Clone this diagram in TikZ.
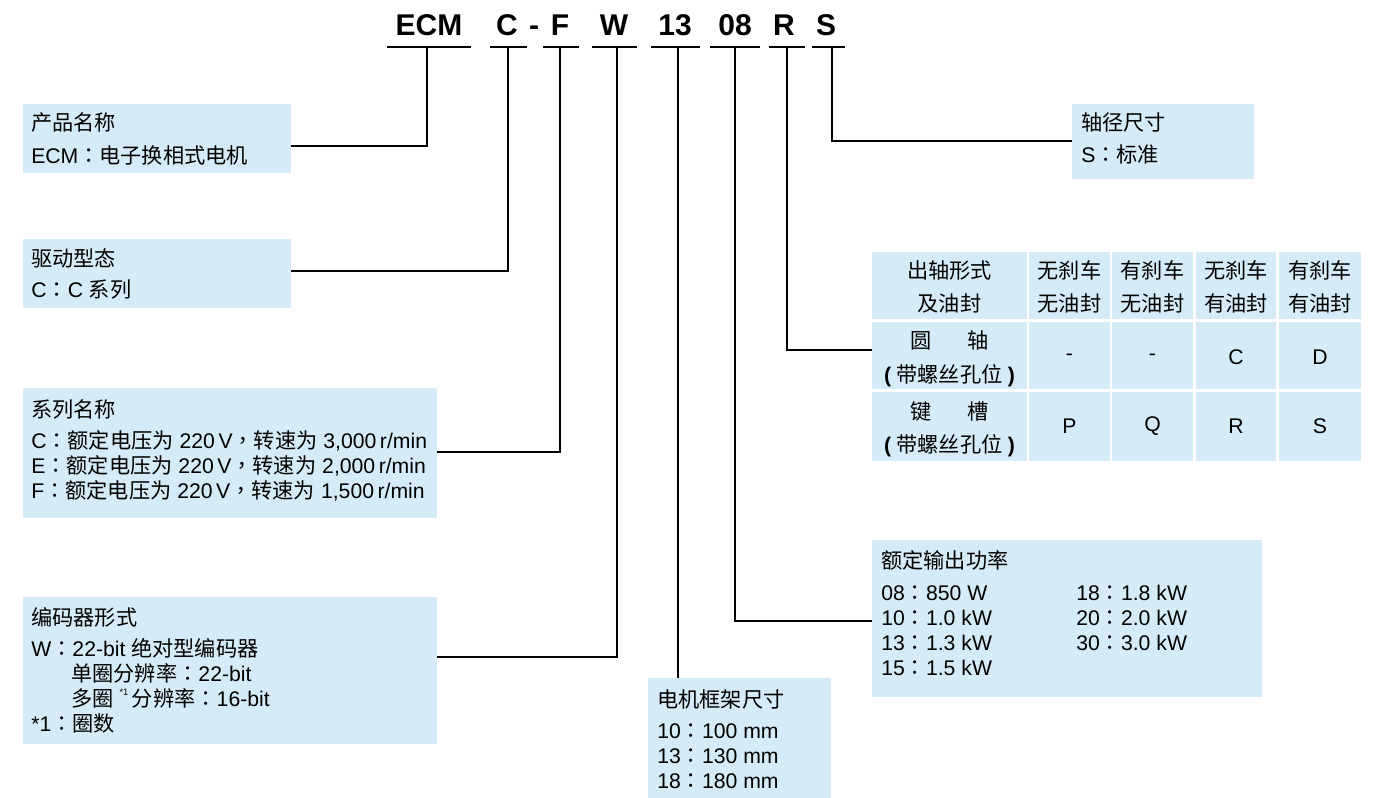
\documentclass[tikz,border=0pt]{standalone}
\usepackage{fontspec}
\setmainfont{Liberation Sans}
\newfontfamily\cjk{Noto Sans CJK SC}
\newfontfamily\cjktc{Noto Sans CJK TC}
\usetikzlibrary{fit}
\definecolor{boxblue}{RGB}{213,235,248}
\newcommand{\zh}[1]{{\cjk #1}}
\newcommand{\cc}{{\cjktc ：}}
\newcommand{\cm}{{\cjktc ，}}
\begin{document}
\begin{tikzpicture}[x=0.75pt,y=-0.75pt,
 box/.style={fill=boxblue,draw=none,inner sep=0pt},
 txt/.style={anchor=base west,inner sep=0pt,font=\fontsize{15.9}{18}\selectfont},
 ctxt/.style={anchor=base,inner sep=0pt,font=\fontsize{15.9}{18}\selectfont},
 vtxt/.style={anchor=center,inner sep=0pt,font=\fontsize{15.9}{18}\selectfont},
 hdr/.style={anchor=base,inner sep=0pt,font=\fontsize{22.5}{26}\selectfont\bfseries},
 conn/.style={line width=1.8pt}]
\useasboundingbox (0,0) rectangle (1380,798);

% boxes
\node[box,fit={(23,104)(291,173)}] (b1) {};
\node[box,fit={(23,239)(291,308)}] (b2) {};
\node[box,fit={(23,388)(437,518)}] (b3) {};
\node[box,fit={(23,597)(437,744)}] (b4) {};
\node[box,fit={(648,678)(831,798)}] (b5) {};
\node[box,fit={(872,540)(1262,697)}] (b6) {};
\node[box,fit={(1072,104)(1254,179)}] (b7) {};

% table cells
\node[box,fit={(872,252)(1027,319)}] (c11) {};
\node[box,fit={(1029,252)(1110,319)}] (c12) {};
\node[box,fit={(1112,252)(1193,319)}] (c13) {};
\node[box,fit={(1196,252)(1276,319)}] (c14) {};
\node[box,fit={(1279,252)(1361,319)}] (c15) {};
\node[box,fit={(872,322)(1027,389)}] (c21) {};
\node[box,fit={(1029,322)(1110,389)}] (c22) {};
\node[box,fit={(1112,322)(1193,389)}] (c23) {};
\node[box,fit={(1196,322)(1276,389)}] (c24) {};
\node[box,fit={(1279,322)(1361,389)}] (c25) {};
\node[box,fit={(872,392)(1027,461)}] (c31) {};
\node[box,fit={(1029,392)(1110,461)}] (c32) {};
\node[box,fit={(1112,392)(1193,461)}] (c33) {};
\node[box,fit={(1196,392)(1276,461)}] (c34) {};
\node[box,fit={(1279,392)(1361,461)}] (c35) {};

% header
\node[hdr] (hE) at (429,36) {ECM};
\node[hdr] (hC) at (507,36) {C};
\node[hdr] (hD) at (534,36) {-};
\node[hdr] (hF) at (560,36) {F};
\node[hdr] (hW) at (614,36) {W};
\node[hdr] (h13) at (675,36) {13};
\node[hdr] (h08) at (735,36) {08};
\node[hdr] (hR) at (784,36) {R};
\node[hdr] (hS) at (826,36) {S};
\draw[conn] (387,47) -- (471,47);
\draw[conn] (490,47) -- (527,47);
\draw[conn] (543,47) -- (579,47);
\draw[conn] (592,47) -- (637,47);
\draw[conn] (651,47) -- (700,47);
\draw[conn] (710,47) -- (760,47);
\draw[conn] (769,47) -- (805,47);
\draw[conn] (812,47) -- (845,47);

% connectors
\coordinate (tE) at (427,47); \coordinate (jE) at (291,146);
\coordinate (tC) at (508,47); \coordinate (jC) at (291,271);
\coordinate (tF) at (560,47); \coordinate (jF) at (437,452);
\coordinate (tW) at (617,47); \coordinate (jW) at (437,657);
\coordinate (t13) at (678,47); \coordinate (j13) at (678,678);
\coordinate (t08) at (735,47); \coordinate (j08) at (872,621);
\coordinate (tR) at (787,47); \coordinate (jR) at (872,350);
\coordinate (tS) at (832,47); \coordinate (jS) at (1072,141);
\draw[conn] (tE) |- (jE);
\draw[conn] (tC) |- (jC);
\draw[conn] (tF) |- (jF);
\draw[conn] (tW) |- (jW);
\draw[conn] (t13) -- (j13);
\draw[conn] (t08) |- (j08);
\draw[conn] (tR) |- (jR);
\draw[conn] (tS) |- (jS);

% box 1
\node[txt] (b1t) at (31,131) {\zh{产品名称}};
\node[txt] (b1a) at (31,164) {ECM\cc\zh{电子换相式电机}};
% box 2
\node[txt] (b2t) at (31,267) {\zh{驱动型态}};
\node[txt] (b2a) at (31,298) {C\cc C \zh{系列}};
% box 3
\node[txt] (b3t) at (31,417) {\zh{系列名称}};
\node[txt] (b3a) at (31,448) {C\cc\zh{额定电压为} 220\,V\cm\zh{转速为} 3,000\,r/min};
\node[txt] (b3b) at (31,473) {E\cc\zh{额定电压为} 220\,V\cm\zh{转速为} 2,000\,r/min};
\node[txt] (b3c) at (31,498) {F\cc\zh{额定电压为} 220\,V\cm\zh{转速为} 1,500\,r/min};
% box 4
\node[txt] (b4t) at (31,625) {\zh{编码器形式}};
\node[txt] (b4a) at (31,656) {W\cc 22-bit \zh{绝对型编码器}};
\node[txt] (b4b) at (71,681) {\zh{单圈分辨率}\cc 22-bit};
\node[txt] (b4c) at (71,706) {\zh{多圈} \raisebox{0.5em}{\fontsize{7}{8}\selectfont *1}\,\zh{分辨率}\cc 16-bit};
\node[txt] (b4d) at (31,731) {*1\cc\zh{圈数}};
% box 5
\node[txt] (b5t) at (657,707) {\zh{电机框架尺寸}};
\node[txt] (b5a) at (657,738) {10\cc 100 mm};
\node[txt] (b5b) at (657,763) {13\cc 130 mm};
\node[txt] (b5c) at (657,788) {18\cc 180 mm};
% box 6
\node[txt] (b6t) at (881,568) {\zh{额定输出功率}};
\node[txt] (b6a) at (881,600) {08\cc 850 W};
\node[txt] (b6b) at (881,625) {10\cc 1.0 kW};
\node[txt] (b6c) at (881,650) {13\cc 1.3 kW};
\node[txt] (b6d) at (881,675) {15\cc 1.5 kW};
\node[txt] (b6e) at (1076,600) {18\cc 1.8 kW};
\node[txt] (b6f) at (1076,625) {20\cc 2.0 kW};
\node[txt] (b6g) at (1076,650) {30\cc 3.0 kW};
% box 7
\node[txt] (b7t) at (1081,131) {\zh{轴径尺寸}};
\node[txt] (b7a) at (1081,163) {S\cc\zh{标准}};

% table texts
\node[ctxt] (x11a) at (949.5,279) {\zh{出轴形式}};
\node[ctxt] (x11b) at (949.5,312) {\zh{及油封}};
\node[ctxt] (x12a) at (1069.5,279) {\zh{无刹车}};
\node[ctxt] (x12b) at (1069.5,312) {\zh{无油封}};
\node[ctxt] (x13a) at (1152.5,279) {\zh{有刹车}};
\node[ctxt] (x13b) at (1152.5,312) {\zh{无油封}};
\node[ctxt] (x14a) at (1236,279) {\zh{无刹车}};
\node[ctxt] (x14b) at (1236,312) {\zh{有油封}};
\node[ctxt] (x15a) at (1320,279) {\zh{有刹车}};
\node[ctxt] (x15b) at (1320,312) {\zh{有油封}};
\node[ctxt] (x21a) at (949.5,349) {\zh{圆}\hspace{1.7em}\zh{轴}};
\node[ctxt] (x21b) at (949.5,382) {\textbf{(}\hspace{0.25em}\zh{带螺丝孔位}\hspace{0.25em}\textbf{)}};
\node[ctxt] (x31a) at (949.5,419) {\zh{键}\hspace{1.7em}\zh{槽}};
\node[ctxt] (x31b) at (949.5,452) {\textbf{(}\hspace{0.25em}\zh{带螺丝孔位}\hspace{0.25em}\textbf{)}};
\node[vtxt] (x22) at (1069.5,357) {-};
\node[vtxt] (x23) at (1152.5,357) {-};
\node[vtxt] (x24) at (1236,357) {C};
\node[vtxt] (x25) at (1320,357) {D};
\node[vtxt] (x32) at (1069.5,426) {P};
\node[vtxt] (x33) at (1152.5,426) {Q};
\node[vtxt] (x34) at (1236,426) {R};
\node[vtxt] (x35) at (1320,426) {S};
\end{tikzpicture}
\end{document}
